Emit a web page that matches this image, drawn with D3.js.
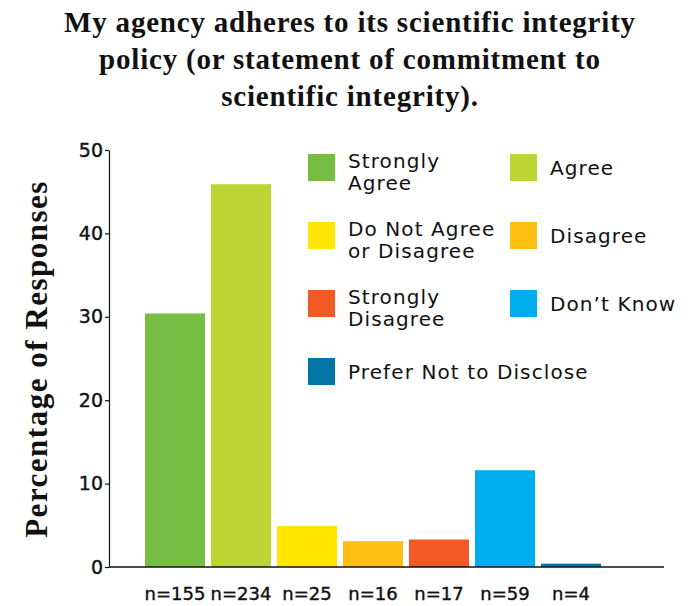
<!DOCTYPE html>
<html lang="en">
<head>
    <meta charset="UTF-8">
    <title>Scientific integrity policy</title>
    <script src="https://d3js.org/d3.v7.min.js"></script>
    <style>
        body { margin: 0; background: #fff; }
        .title { font: bold 29px "Liberation Serif", serif; fill: #111; letter-spacing: 0.8px; }
        .ylabel { font: bold 31px "Liberation Serif", serif; fill: #111; letter-spacing: 1.5px; }
        .tick text { font: 19px "DejaVu Sans", sans-serif; fill: #111; stroke: #111; stroke-width: 0.4px; }
        .nlabel { font: 18px "DejaVu Sans", sans-serif; fill: #111; stroke: #111; stroke-width: 0.4px; }
        .legend text { font: 20px "DejaVu Sans", sans-serif; fill: #111; letter-spacing: 1.1px; }
    </style>
</head>
<body>
<div id="chart"></div>
<script>
    // data
    const categories = ["Strongly Agree", "Agree", "Do Not Agree or Disagree", "Disagree",
        "Strongly Disagree", "Don\u2019t Know", "Prefer Not to Disclose"];
    const percents = [30.4, 45.9, 4.9, 3.1, 3.3, 11.6, 0.4];
    const counts = [155, 234, 25, 16, 17, 59, 4];
    const colors = ["#76bd43", "#bcd534", "#ffe500", "#fdbf12", "#f15a24", "#00aeef", "#0076a8"];
    const yTicks = [0, 10, 20, 30, 40, 50];
    const titleLines = ["My agency adheres to its scientific integrity",
        "policy (or statement of commitment to", "scientific integrity)."];
    const legendLines = [["Strongly", "Agree"], ["Agree"], ["Do Not Agree", "or Disagree"], ["Disagree"],
        ["Strongly", "Disagree"], ["Don\u2019t Know"], ["Prefer Not to Disclose"]];

    const width = 692, height = 606;
    const svg = d3.select("#chart").append("svg")
        .attr("width", width)
        .attr("height", height);

    // title
    svg.selectAll(".title")
        .data(titleLines)
        .enter().append("text")
        .attr("class", "title")
        .attr("x", 350)
        .attr("y", (d, i) => 32 + i * 37)
        .attr("text-anchor", "middle")
        .text(d => d);

    const axisX = 109, baseY = 567, topY = 150;

    const x = d3.scaleBand()
        .domain(categories)
        .range([145, 601])
        .paddingInner(0.09)
        .paddingOuter(0);

    const y = d3.scaleLinear()
        .domain([0, 50])
        .range([baseY, topY]);

    // bars
    svg.selectAll(".bar")
        .data(categories)
        .enter().append("rect")
        .attr("class", "bar")
        .attr("x", d => x(d))
        .attr("width", x.bandwidth())
        .attr("y", (d, i) => y(percents[i]))
        .attr("height", (d, i) => y(0) - y(percents[i]))
        .attr("fill", (d, i) => colors[i]);

    // y axis
    const yAxis = svg.append("g")
        .attr("transform", "translate(" + axisX + ",0)")
        .call(d3.axisLeft(y).tickValues(yTicks).tickSize(4).tickSizeOuter(0).tickPadding(2));
    yAxis.selectAll("line, path").attr("stroke", "#111").attr("stroke-width", 1.2);

    // x baseline
    svg.append("line")
        .attr("x1", axisX).attr("x2", 664)
        .attr("y1", baseY).attr("y2", baseY)
        .attr("stroke", "#111")
        .attr("stroke-width", 1.5);

    // n= labels
    svg.selectAll(".nlabel")
        .data(categories)
        .enter().append("text")
        .attr("class", "nlabel")
        .attr("x", d => x(d) + x.bandwidth() / 2)
        .attr("y", 600)
        .attr("text-anchor", "middle")
        .text((d, i) => "n=" + counts[i]);

    // y label
    svg.append("text")
        .attr("class", "ylabel")
        .attr("transform", "translate(47,359) rotate(-90)")
        .attr("text-anchor", "middle")
        .text("Percentage of Responses");

    // legend, two columns
    const legend = svg.append("g").attr("class", "legend");
    const item = legend.selectAll("g")
        .data(categories)
        .enter().append("g")
        .attr("transform", (d, i) => "translate(" + (i % 2 ? 510 : 308) + "," + (154 + Math.floor(i / 2) * 68) + ")");

    item.append("rect")
        .attr("width", 27)
        .attr("height", 27)
        .attr("fill", (d, i) => colors[i]);

    item.each(function(d, i) {
        const lines = legendLines[i];
        const g = d3.select(this);
        lines.forEach(function(line, j) {
            g.append("text")
                .attr("x", 40)
                .attr("y", lines.length > 1 ? 14 + j * 22 : 21)
                .text(line);
        });
    });
</script>
</body>
</html>
